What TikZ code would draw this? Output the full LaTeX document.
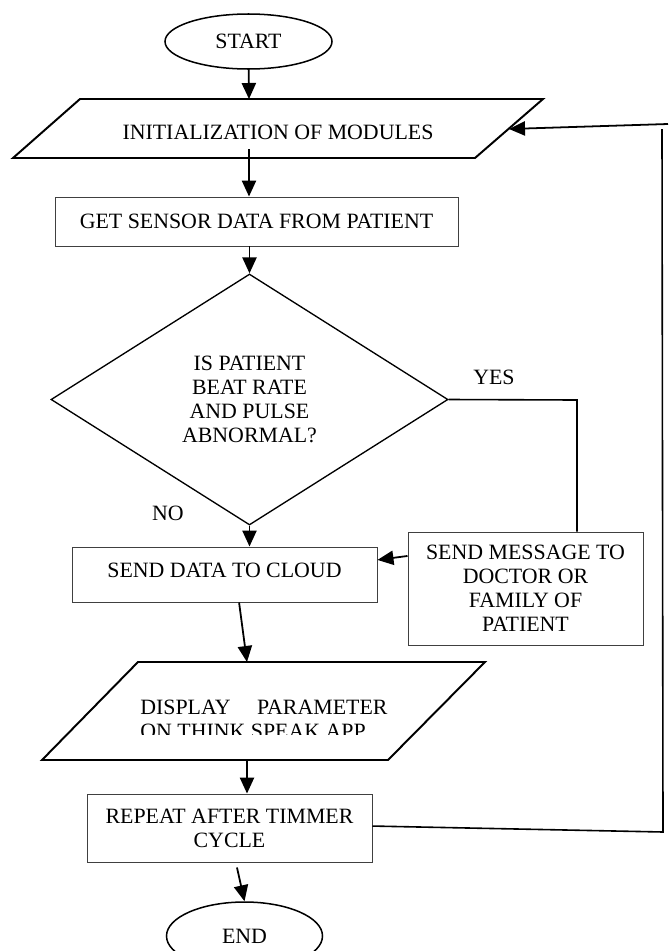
\documentclass[tikz,border=0pt]{standalone}
\usepackage{fontspec}
\setmainfont{Liberation Serif}
\usetikzlibrary{arrows.meta,shapes.geometric,calc}
\newcommand\flowfont{\fontsize{12.3pt}{13.5pt}\selectfont}
\begin{document}
\begin{tikzpicture}[x=0.5625pt,y=-0.5625pt,
  txt/.style={font=\flowfont, align=center, inner sep=0pt},
  oval/.style={draw, ellipse, line width=0.85pt, inner sep=0pt, font=\flowfont},
  box/.style={draw=black!75, line width=0.55pt, rectangle, inner sep=0pt, font=\flowfont, align=center},
  slant/.style={draw, line width=1.1pt, line join=miter},
  arr/.style={line width=1pt, -{Triangle[length=9pt,width=8pt]}},
  wire/.style={line width=0.9pt}]
\useasboundingbox (0,0) rectangle (670,951);

% terminals
\node[oval, minimum width=93.94pt, minimum height=30.94pt] (start) at (248.5,41.5) {START};
\node[oval, minimum width=87.75pt, minimum height=38.25pt] (stop) at (244.5,936) {END};

% input/output parallelograms
\draw[slant] (80,99) -- (543,99) -- (475,158) -- (13,158) -- cycle;
\node[txt] (init) at (278,132) {INITIALIZATION OF MODULES};

\draw[slant] (138,662) -- (485,662) -- (388,760) -- (42,760) -- cycle;
\begin{scope}
  \clip (0,0) rectangle (670,734);
  \node[txt, align=left, anchor=west] (disp) at (140,719)
    {\makebox[139pt][s]{DISPLAY PARAMETER}\\ON THINK SPEAK APP};
\end{scope}

% process boxes
\node[box, minimum width=226.7pt, minimum height=27.56pt] (get) at (256.5,221.5) {GET SENSOR DATA FROM PATIENT};
\node[box, minimum width=171.56pt, minimum height=30.94pt, text height=8.14pt, text depth=5.32pt] (cloud) at (224.5,574.5) {SEND DATA TO CLOUD};
\node[box, minimum width=132.19pt, minimum height=63.56pt] (msg) at (525.5,588.5) {SEND MESSAGE TO\\DOCTOR OR\\FAMILY OF\\PATIENT};
\node[box, minimum width=160.31pt, minimum height=38.25pt] (rep) at (229.5,828) {REPEAT AFTER TIMMER\\CYCLE};

% decision
\node[draw, diamond, line width=0.75pt, minimum width=223.31pt, minimum height=141.19pt,
      inner sep=0pt, font=\flowfont, align=center] (dec) at (249.5,399.5)
      {IS PATIENT\\BEAT RATE\\AND PULSE\\ABNORMAL?};
\node[txt] (yes) at (494,377) {YES};
\node[txt] (no) at (168,513) {NO};

% helper points on the slanted shapes and the return path
\coordinate (initT) at (249,99);
\coordinate (initO) at (249,149);
\coordinate (initI) at (509,129);
\coordinate (fbTopR) at (668,124);
\coordinate (fbUp) at (662,129);
\coordinate (fbDn) at (663,832);
\coordinate (yesC) at (577,400);
\coordinate (dispT) at (247,662);
\coordinate (dispB) at (247,760);

% connectors
\draw[arr] (start) -- (initT);
\draw[arr] (initO) -- (initO |- get.north);
\draw[arr] (dec.north |- get.south) -- (dec.north);
\draw[wire] (dec.east) -- (yesC) -- (yesC |- msg.north);
\draw[arr] (dec.south) -- (dec.south |- cloud.north);
\draw[arr] ([yshift=18.3pt]msg.west) -- ([yshift=8.2pt]cloud.east);
\draw[arr] ([xshift=8.2pt]cloud.south) -- (dispT);
\draw[arr] (dispB) -- (dispB |- rep.north);
\draw[wire] ([yshift=1.1pt]rep.east) -- (fbDn) -- (fbUp);
\draw[arr] (fbTopR) -- (initI);
\draw[arr] ([xshift=4.2pt,yshift=-2.8pt]rep.south) -- (stop.north);
\end{tikzpicture}
\end{document}
